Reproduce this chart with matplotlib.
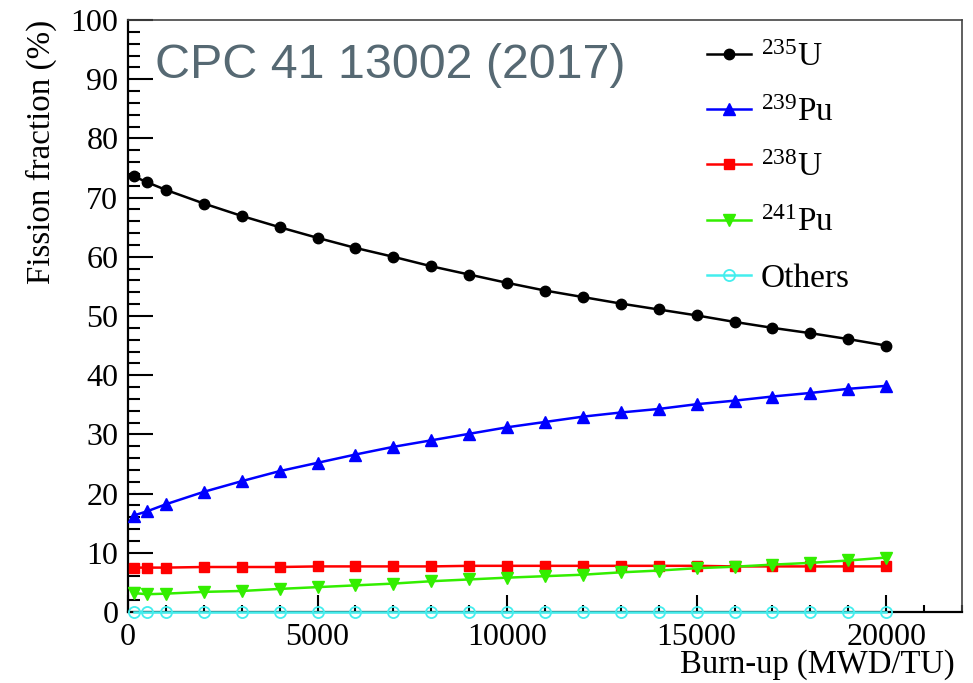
import numpy as np
import matplotlib
matplotlib.use("Agg")
import matplotlib.pyplot as plt
from matplotlib.ticker import MultipleLocator

plt.rcParams['font.family'] = ['Liberation Serif', 'DejaVu Serif']
plt.rcParams['mathtext.default'] = 'regular'

burnup = [150, 500, 1000, 2000, 3000, 4000, 5000, 6000, 7000, 8000, 9000, 10000,
          11000, 12000, 13000, 14000, 15000, 16000, 17000, 18000, 19000, 20000]
u235 = [73.6, 72.6, 71.3, 69.0, 66.9, 65.0, 63.2, 61.5, 60.0, 58.4, 57.0, 55.6,
        54.3, 53.2, 52.1, 51.1, 50.1, 49.0, 48.0, 47.1, 46.1, 45.0]
pu239 = [16.3, 17.0, 18.2, 20.3, 22.1, 23.8, 25.2, 26.6, 27.9, 29.0, 30.1, 31.2,
         32.1, 33.0, 33.7, 34.3, 35.1, 35.7, 36.4, 37.0, 37.7, 38.2]
u238 = [7.5, 7.5, 7.5, 7.6, 7.6, 7.6, 7.7, 7.7, 7.7, 7.7, 7.8, 7.8,
        7.8, 7.8, 7.8, 7.8, 7.8, 7.7, 7.7, 7.7, 7.7, 7.7]
pu241 = [3.2, 3.0, 3.1, 3.4, 3.55, 3.9, 4.2, 4.5, 4.8, 5.2, 5.5, 5.8,
         6.05, 6.3, 6.7, 7.0, 7.4, 7.65, 8.0, 8.3, 8.7, 9.2]
others = [0.0] * 22

fig = plt.figure(figsize=(9.73, 6.83), dpi=100)
ax = fig.add_axes([128/973, 71/683, 834/973, 592/683])

ax.plot(burnup, u235, color='black', lw=1.8, marker='o', ms=7.5, label='$^{235}$U', zorder=5)
ax.plot(burnup, pu239, color='#0000ff', lw=1.8, marker='^', ms=8, label='$^{239}$Pu', zorder=5)
ax.plot(burnup, u238, color='#ff0000', lw=1.8, marker='s', ms=7, label='$^{238}$U', zorder=5)
ax.plot(burnup, pu241, color='#33ee00', lw=1.8, marker='v', ms=8, label='$^{241}$Pu', zorder=5)
ax.plot(burnup, others, color='#44eeee', lw=1.8, marker='o', ms=8, mfc='none', mew=1.3,
        label='Others', zorder=5, clip_on=False)

ax.set_xlim(0, 22000)
ax.set_ylim(0, 100)
ax.xaxis.set_major_locator(MultipleLocator(5000))
ax.xaxis.set_minor_locator(MultipleLocator(1000))
ax.yaxis.set_major_locator(MultipleLocator(10))
ax.yaxis.set_minor_locator(MultipleLocator(2))

ax.tick_params(which='both', direction='in', top=False, right=False, width=1.5, labelsize=23)
ax.tick_params(axis='y', which='major', length=18, pad=7)
ax.tick_params(axis='y', which='minor', length=8.5)
ax.tick_params(axis='x', which='major', length=12, pad=8)
ax.tick_params(axis='x', which='minor', length=5)

for side in ['left', 'bottom']:
    ax.spines[side].set_linewidth(1.6)
for side in ['top', 'right']:
    ax.spines[side].set_linewidth(1.2)
    ax.spines[side].set_color('#444444')

fig.text(41/973, 1 - 20/683, 'Fission fraction (%)', rotation=90, ha='center', va='top', fontsize=23.8)
fig.text(955/973, 1 - 665/683, 'Burn-up (MWD/TU)', ha='right', va='center', fontsize=23.5)

fig.text(155/973, 1 - 65/683, 'CPC 41 13002 (2017)', ha='left', va='center', fontsize=34.8,
         family='Liberation Sans', color='#566973')

ax.legend(loc='upper left', bbox_to_anchor=(707/973, 1 - 42/683), bbox_transform=fig.transFigure,
          frameon=False, fontsize=24, handlelength=1.32, handletextpad=0.3,
          labelspacing=0.74, borderpad=0, borderaxespad=0)

fig.savefig('out.png', dpi=100)
